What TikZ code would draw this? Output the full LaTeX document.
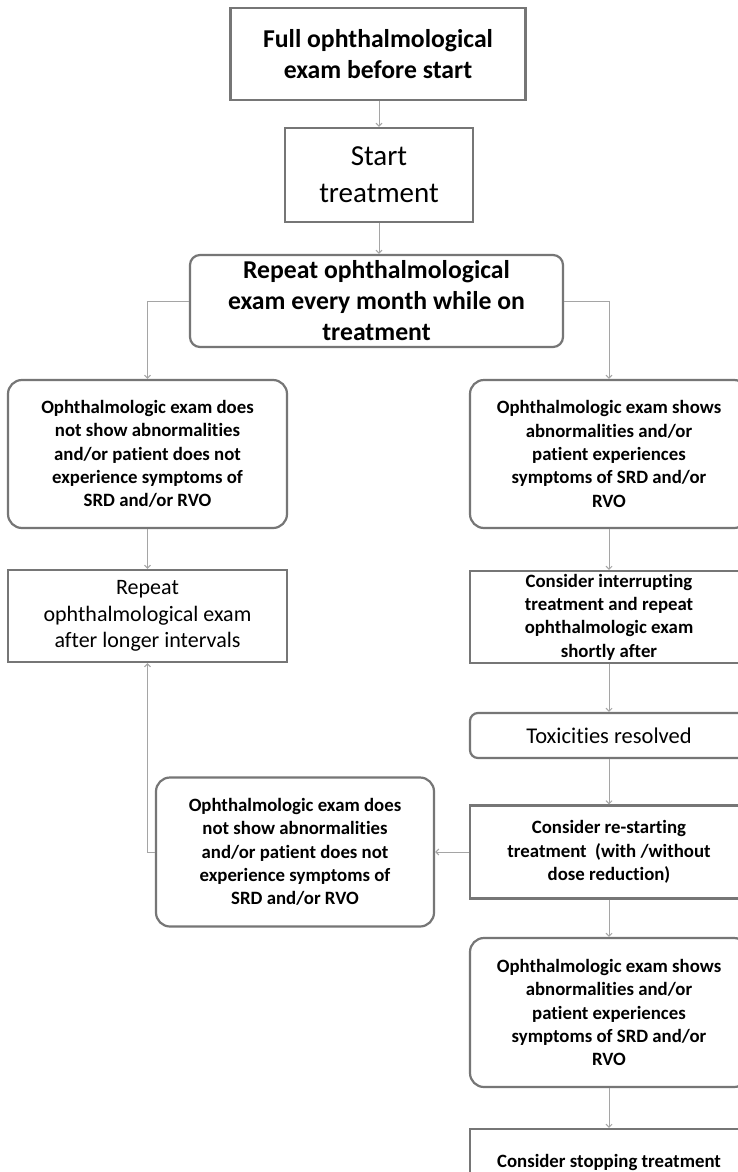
\documentclass[tikz,border=0pt]{standalone}
\usepackage{fontspec}
\setmainfont{Carlito}[Ligatures={NoCommon}]
\usetikzlibrary{arrows.meta}
\definecolor{boxgray}{RGB}{118,118,118}
\definecolor{linkgray}{RGB}{165,165,165}
\begin{document}
\begin{tikzpicture}[x=1pt,y=-1pt,
  box/.style={draw=boxgray,line width=2.2pt,fill=white,inner sep=0pt,align=center},
  roundbox/.style={box,rounded corners=14pt},
  big/.style={font=\fontsize{25.7}{31}\selectfont\bfseries},
  small/.style={font=\fontsize{18.8}{23.4}\selectfont\bfseries},
  plain/.style={font=\fontsize{22}{26.7}\selectfont},
  link/.style={draw=linkgray,line width=1pt,-{Straight Barb[length=3pt,width=6pt]}}]
\useasboundingbox (0,0) rectangle (738,1172);
\clip (0,0) rectangle (738,1172);
\fill[white] (0,0) rectangle (738,1172);
% top column
\node[box,big,minimum width=295pt,minimum height=92pt] (full) at (378,54)
  {Full ophthalmological\\exam before start};
\node[box,font=\fontsize{29}{37}\selectfont,minimum width=188pt,minimum height=94pt] (start) at (379,175)
  {Start\\treatment};
\node[box,big,rounded corners=10pt,minimum width=373pt,minimum height=92pt] (repeat) at (376.5,301)
  {Repeat ophthalmological\\exam every month while on\\treatment};
% left branch
\node[roundbox,small,minimum width=279pt,minimum height=148pt] (noabn) at (147.5,454)
  {Ophthalmologic exam does\\not show abnormalities\\and/or patient does not\\experience symptoms of\\SRD and/or RVO};
\node[box,plain,minimum width=279pt,minimum height=92pt] (longer) at (147.5,616)
  {Repeat\\ophthalmological exam\\after longer intervals};
% right branch
\node[roundbox,small,minimum width=278pt,minimum height=148pt] (abn) at (609,454)
  {Ophthalmologic exam shows\\abnormalities and/or\\patient experiences\\symptoms of SRD and/or\\RVO};
\node[box,small,minimum width=278pt,minimum height=92pt] (interrupt) at (609,617)
  {Consider interrupting\\treatment and repeat\\ophthalmologic exam\\shortly after};
\node[box,plain,rounded corners=8pt,font=\fontsize{22.5}{27}\selectfont,minimum width=278pt,minimum height=45pt] (resolved) at (609,735.5)
  {Toxicities resolved};
\node[box,small,minimum width=278pt,minimum height=93pt] (restart) at (609,852)
  {Consider re-starting\\treatment~ (with /without\\dose reduction)};
\node[roundbox,small,minimum width=278pt,minimum height=149pt] (noabn2) at (295,852)
  {Ophthalmologic exam does\\not show abnormalities\\and/or patient does not\\experience symptoms of\\SRD and/or RVO};
\node[roundbox,small,minimum width=278pt,minimum height=149pt] (abn2) at (609,1012.5)
  {Ophthalmologic exam shows\\abnormalities and/or\\patient experiences\\symptoms of SRD and/or\\RVO};
\node[box,small,minimum width=278pt,minimum height=66pt] (stop) at (609,1162)
  {Consider stopping treatment};
% connectors
\draw[link] (full.south -| start.north) -- (start.north);
\draw[link] (start.south) -- (start.south |- repeat.north);
\draw[link] (repeat.west) -| (noabn.north);
\draw[link] (repeat.east) -| (abn.north);
\draw[link] (noabn) -- (longer);
\draw[link] (abn) -- (interrupt);
\draw[link] (interrupt) -- (resolved);
\draw[link] (resolved) -- (restart);
\draw[link] (restart.west) -- (noabn2.east);
\draw[link] (noabn2.west) -| (longer.south);
\draw[link] (restart) -- (abn2);
\draw[link] (abn2) -- (stop);
\end{tikzpicture}
\end{document}
